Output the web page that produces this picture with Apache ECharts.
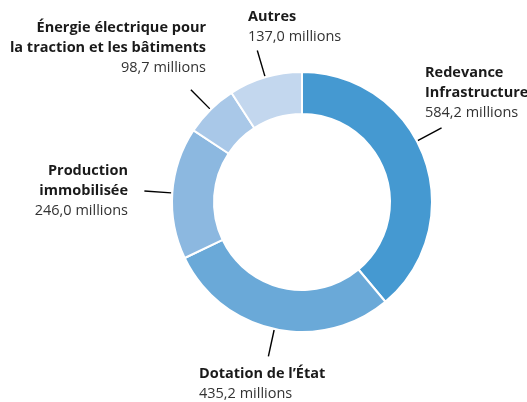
<!DOCTYPE html>
<html>
<head>
<meta charset="utf-8">
<script src="https://cdn.jsdelivr.net/npm/echarts@6/dist/echarts.min.js"></script>
<style>
  html, body { margin: 0; padding: 0; background: #fff; }
  #main { width: 527px; height: 402px; }
</style>
</head>
<body>
<div id="main"></div>
<script>
// données (millions)
var names = [
  ["Redevance", "Infrastructure"],
  ["Dotation de l’État"],
  ["Production", "immobilisée"],
  ["Énergie électrique pour", "la traction et les bâtiments"],
  ["Autres"]
];
var valueLabels = ["584,2 millions", "435,2 millions", "246,0 millions", "98,7 millions", "137,0 millions"];
var values = [584.2, 435.2, 246.0, 98.7, 137.0];

var colors = ["#4599d1", "#6aa9d8", "#8cb8e0", "#a9c8e8", "#c3d7ee"];
// placement des étiquettes : [x, haut, alignement]
var labelPos = [
  [425, 63, "left"],
  [199, 364, "left"],
  [128, 161, "right"],
  [206, 18, "right"],
  [248, 7, "left"]
];
var angleShift = [-8, 0, 0, 0, 0]; // décalage du trait (degrés)

var cx = 302, cy = 202, rOut = 130, rIn = 88;

var total = values.reduce(function (a, b) { return a + b; }, 0);
var midAngles = [];
var acc = 0;
for (var i = 0; i < values.length; i++) {
  midAngles.push((acc + values[i] / 2) / total * 360);
  acc += values[i];
}

var data = [];
for (var i = 0; i < values.length; i++) {
  data.push({ value: values[i], name: names[i].join(" "), itemStyle: { color: colors[i] } });
}

var myChart = echarts.init(document.getElementById("main"));
var option = {
  animation: false,
  series: [
    {
      type: "pie",
      center: [cx, cy],
      radius: [rIn, rOut],
      startAngle: 90,
      clockwise: true,
      data: data,
      itemStyle: { borderColor: "#fff", borderWidth: 2 },
      label: {
        show: true,
        position: "outside",
        overflow: "none",
        width: 300,
        fontFamily: "Open Sans",
        formatter: function (p) {
          var i = p.dataIndex;
          var s = names[i].map(function (t) { return "{b|" + t + "}"; }).join("\n");
          return s + "\n{v|" + valueLabels[i] + "}";
        },
        rich: {
          b: { fontFamily: "Open Sans", fontWeight: "bold", fontSize: 14.5, color: "#1a1a1a", lineHeight: 20 },
          v: { fontFamily: "Open Sans", fontSize: 14.5, color: "#333", lineHeight: 20 }
        }
      },
      labelLine: { show: true, length: 27, length2: 0, lineStyle: { color: "#000", width: 1.4 } },
      labelLayout: function (params) {
        var i = params.dataIndex;
        var a = (midAngles[i] + angleShift[i]) * Math.PI / 180;
        var r1 = rOut + 1, r2 = rOut + 28;
        var p1 = [cx + r1 * Math.sin(a), cy - r1 * Math.cos(a)];
        var p2 = [cx + r2 * Math.sin(a), cy - r2 * Math.cos(a)];
        return {
          x: labelPos[i][0],
          y: labelPos[i][1],
          align: labelPos[i][2],
          verticalAlign: "top",
          labelLinePoints: [p1, p2, p2]
        };
      }
    }
  ]
};
myChart.setOption(option);
</script>
</body>
</html>
